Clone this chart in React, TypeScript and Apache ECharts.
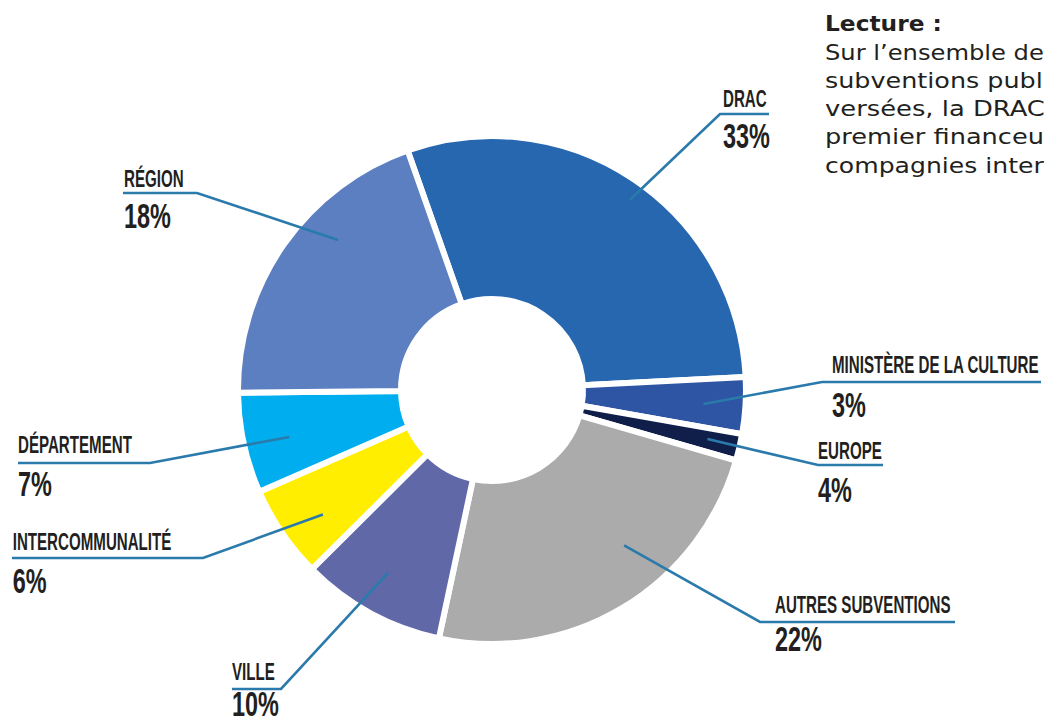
import React, { useEffect, useRef } from "react";
import * as echarts from "echarts";

// ---- data ----
const categories = [
  "DRAC",
  "MINISTÈRE DE LA CULTURE",
  "EUROPE",
  "AUTRES SUBVENTIONS",
  "VILLE",
  "INTERCOMMUNALITÉ",
  "DÉPARTEMENT",
  "RÉGION",
];
// slice sizes (share of the ring)
const sliceValues = [29.6, 3.6, 1.7, 23.9, 9.2, 5.9, 6.4, 19.8];
// percentages printed beside each slice
const labelPercents = ["33%", "3%", "4%", "22%", "10%", "6%", "7%", "18%"];

const noteTitle = "Lecture :";
// the note as visible in the picture (cut by the right edge)
const noteLines = [
  "Sur l’ensemble de",
  "subventions publ",
  "versées, la DRAC",
  "premier financeu",
  "compagnies inter",
];

// ---- styles / layout ----
const COLORS = [
  "#2767B0",
  "#2D55A4",
  "#0F1F4A",
  "#AAABAA",
  "#6068A8",
  "#FFEE00",
  "#00AEEF",
  "#5C7FC1",
];
const CX = 492;
const CY = 390;
const R_IN = 91;
const R_OUT = 254;
const START = 109.4;
const LINE_COLOR = "#2A7AAB";
const TEXT_COLOR = "#231F20";
const LABEL_FONT = '"Liberation Sans", Arial, sans-serif';
const NOTE_FONT = '"DejaVu Sans", sans-serif';
const NOTE_X = 825;
const NOTE_WIDTHS = [219, 218, 220, 219, 219];

// leader-line anchor (fraction inside slice, radius), elbow, underline end, text placement
const LAYOUT = [
  { frac: 0.52, r: 235, elbow: [720, 114], endX: 769, tx: 723, nameY: 99, pctY: 136 },
  { frac: 0.52, r: 212, elbow: [822, 382], endX: 1041, tx: 832, nameY: 365, pctY: 404.5 },
  { frac: 0.46, r: 221, elbow: [818, 465], endX: 883, tx: 818, nameY: 451, pctY: 490 },
  { frac: 0.39, r: 204, elbow: [760, 622], endX: 955, tx: 775, nameY: 604.5, pctY: 639 },
  { frac: 0.53, r: 210, elbow: [281, 689], endX: 232, tx: 232, nameY: 672, pctY: 704 },
  { frac: 0.4, r: 210, elbow: [203, 558], endX: 12, tx: 12.7, nameY: 542, pctY: 580.5 },
  { frac: 0.46, r: 208, elbow: [150, 463], endX: 18, tx: 18, nameY: 445, pctY: 484 },
  { frac: 0.63, r: 215, elbow: [197, 193], endX: 123, tx: 124, nameY: 179, pctY: 216 },
];

function measure(text: string, font: string): number {
  const c = document.createElement("canvas");
  const ctx = c.getContext("2d");
  if (!ctx) return text.length * 12;
  ctx.font = font;
  return ctx.measureText(text).width;
}

function textEl(x: number, y: number, text: string, font: string, scaleX = 1) {
  return {
    type: "text",
    x,
    y,
    scaleX,
    silent: true,
    z: 10,
    style: {
      text,
      fill: TEXT_COLOR,
      font,
      textAlign: "left",
      textVerticalAlign: "middle",
      align: "left",
      verticalAlign: "middle",
    },
  };
}

function buildGraphics() {
  const total = sliceValues.reduce((a, b) => a + b, 0);
  const els: any[] = [];
  let cum = 0;
  sliceValues.forEach((v, i) => {
    const L = LAYOUT[i];
    const theta = ((90 - START) + ((cum + L.frac * v) / total) * 360) * (Math.PI / 180);
    cum += v;
    const ax = CX + L.r * Math.sin(theta);
    const ay = CY - L.r * Math.cos(theta);
    els.push({
      type: "polyline",
      silent: true,
      shape: {
        points: [
          [ax, ay],
          [L.elbow[0], L.elbow[1]],
          [L.endX, L.elbow[1]],
        ],
      },
      style: { stroke: LINE_COLOR, lineWidth: 2.6, fill: "none" },
      z: 10,
    });
    els.push(textEl(L.tx, L.nameY, categories[i], `bold 24px ${LABEL_FONT}`, 0.63));
    els.push(textEl(L.tx, L.pctY, labelPercents[i], `bold 35px ${LABEL_FONT}`, 0.67));
  });
  els.push(textEl(NOTE_X, 23.5, noteTitle, `bold 22px ${NOTE_FONT}`, 1.06));
  noteLines.forEach((t, i) => {
    const font = `22px ${NOTE_FONT}`;
    const w = measure(t, font);
    els.push(textEl(NOTE_X, 52 + i * 28.3, t, font, NOTE_WIDTHS[i] / w));
  });
  return els;
}

export default function App() {
  const ref = useRef<HTMLDivElement>(null);
  useEffect(() => {
    if (!ref.current) return;
    const chart = echarts.init(ref.current, undefined, { renderer: "svg" });
    chart.setOption({
      animation: false,
      backgroundColor: "#ffffff",
      series: [
        {
          type: "pie",
          center: [CX, CY],
          radius: [R_IN, R_OUT],
          startAngle: START,
          clockwise: true,
          silent: true,
          label: { show: false },
          labelLine: { show: false },
          emphasis: { disabled: true },
          itemStyle: { borderColor: "#ffffff", borderWidth: 6 },
          data: categories.map((name, i) => ({
            name,
            value: sliceValues[i],
            itemStyle: { color: COLORS[i] },
          })),
        },
      ],
      graphic: { elements: buildGraphics() },
    });
    return () => chart.dispose();
  }, []);
  return (
    <div
      ref={ref}
      style={{
        position: "fixed",
        left: 0,
        top: 0,
        width: 1047,
        height: 724,
        overflow: "hidden",
        background: "#fff",
      }}
    />
  );
}
